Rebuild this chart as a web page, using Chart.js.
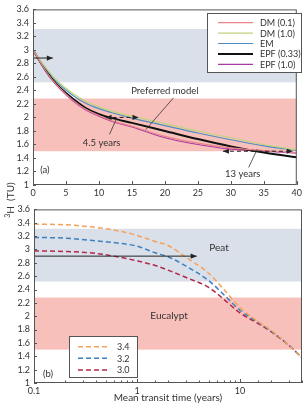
<!DOCTYPE html>
<html>
<head>
<meta charset="utf-8">
<script src="https://cdn.jsdelivr.net/npm/chart.js@4/dist/chart.umd.min.js"></script>
<style>
  body { margin: 0; background: #fff; }
  #wrap { position: relative; width: 305px; height: 408px; font-family: Lato, sans-serif; }
  #topChart { position: absolute; left: 0; top: 0; }
  #botChart { position: absolute; left: 0; top: 200px; }
  #ylab {
    position: absolute; left: -22px; top: 194px; width: 64px; height: 12px; line-height: 12px;
    text-align: center; transform: rotate(-90deg); font-size: 10px; color: #333; white-space: nowrap;
  }
</style>
</head>
<body>
<div id="wrap">
  <canvas id="topChart" width="305" height="200"></canvas>
  <canvas id="botChart" width="305" height="208"></canvas>
  <div id="ylab"><sup style="font-size:7px;line-height:0">3</sup>H&nbsp;&nbsp;(TU)</div>
</div>
<script>
// ---- panel (a): mean age vs tritium, lumped parameter models ----
const ageA = [0, 1, 2, 3, 4, 6, 8, 10, 12, 15, 20, 25, 30, 35, 40];
const dm01 = [3.0, 2.835, 2.68, 2.55, 2.44, 2.26, 2.12, 2.03, 1.95, 1.87, 1.72, 1.62, 1.55, 1.51, 1.48];
const dm10 = [3.0, 2.86, 2.73, 2.61, 2.51, 2.36, 2.24, 2.16, 2.09, 2.02, 1.91, 1.80, 1.70, 1.60, 1.52];
const em = [3.0, 2.85, 2.72, 2.60, 2.49, 2.33, 2.21, 2.13, 2.07, 1.99, 1.88, 1.77, 1.67, 1.58, 1.51];
const epf033 = [3.0, 2.84, 2.69, 2.56, 2.45, 2.28, 2.14, 2.05, 1.99, 1.92, 1.80, 1.68, 1.57, 1.48, 1.41];
const epf10 = [3.0, 2.83, 2.67, 2.54, 2.43, 2.25, 2.11, 2.02, 1.94, 1.86, 1.70, 1.60, 1.53, 1.50, 1.47];

// ---- panel (b): mean transit time vs tritium for three inputs ----
const mttB = [0.1, 0.2, 0.4, 0.7, 1, 1.5, 2, 3, 5, 7, 10, 15, 20, 30, 40];
const in34 = [3.38, 3.37, 3.33, 3.27, 3.21, 3.12, 3.06, 2.88, 2.64, 2.40, 2.13, 1.92, 1.79, 1.56, 1.38];
const in32 = [3.18, 3.17, 3.13, 3.09, 3.05, 2.95, 2.89, 2.75, 2.53, 2.32, 2.09, 1.91, 1.78, 1.56, 1.38];
const in30 = [2.98, 2.97, 2.94, 2.88, 2.83, 2.76, 2.69, 2.58, 2.43, 2.25, 2.05, 1.89, 1.77, 1.56, 1.38];

// tritium ranges of the two catchments [low, high]
const peatRange = [2.52, 3.31];
const eucRange = [1.5, 2.28];

// measured values / age spans used by the arrows
const sampleA = 2.88;       // start value, panel a
const span45 = [11, 16, 2.0];   // from, to, TU
const span13 = [28.8, 39.4, 1.5];
const sampleB = 2.9;
const sampleBEnd = 3.8;

const FONT = 'Lato, sans-serif';
const TXT = '#333';

function head(ctx, tx, ty, fx, fy) {
  const a = Math.atan2(ty - fy, tx - fx), L = 6, W = 2.6;
  ctx.beginPath();
  ctx.moveTo(tx, ty);
  ctx.lineTo(tx - L * Math.cos(a) + W * Math.sin(a), ty - L * Math.sin(a) - W * Math.cos(a));
  ctx.lineTo(tx - L * Math.cos(a) - W * Math.sin(a), ty - L * Math.sin(a) + W * Math.cos(a));
  ctx.closePath();
  ctx.fill();
}

function arrow(ctx, x1, y1, x2, y2, both, dash) {
  ctx.strokeStyle = '#222';
  ctx.fillStyle = '#222';
  ctx.lineWidth = 1;
  ctx.setLineDash(dash ? [4, 3] : []);
  ctx.beginPath(); ctx.moveTo(x1, y1); ctx.lineTo(x2, y2); ctx.stroke();
  ctx.setLineDash([]);
  head(ctx, x2, y2, x1, y1);
  if (both) head(ctx, x1, y1, x2, y2);
}

function line(ctx, x1, y1, x2, y2) {
  ctx.strokeStyle = '#333';
  ctx.lineWidth = 0.8;
  ctx.setLineDash([]);
  ctx.beginPath(); ctx.moveTo(x1, y1); ctx.lineTo(x2, y2); ctx.stroke();
}

function text(ctx, s, x, y, size) {
  ctx.fillStyle = TXT;
  ctx.font = (size || 9.5) + 'px ' + FONT;
  ctx.textAlign = 'center';
  ctx.textBaseline = 'middle';
  ctx.fillText(s, x, y);
}

// frame, inward ticks and a boxed legend, shared by both panels
function frameAndLegend(chart, leg) {
  const { ctx, chartArea: a, scales: { x, y } } = chart;
  ctx.save();
  ctx.strokeStyle = '#555';
  ctx.lineWidth = 1;
  ctx.strokeRect(a.left + 0.5, a.top + 0.5, a.right - a.left - 1, a.bottom - a.top - 1);
  x.ticks.forEach(t => {
    const px = Math.round(x.getPixelForValue(t.value)) + 0.5;
    const len = t.label === '' ? 2.5 : 4;
    ctx.beginPath(); ctx.moveTo(px, a.bottom); ctx.lineTo(px, a.bottom - len); ctx.stroke();
  });
  y.ticks.forEach(t => {
    const py = Math.round(y.getPixelForValue(t.value)) + 0.5;
    ctx.beginPath(); ctx.moveTo(a.left, py); ctx.lineTo(a.left + 3, py); ctx.stroke();
  });

  // legend
  const bx = leg.x, by = leg.y;
  ctx.fillStyle = '#fff';
  ctx.fillRect(bx, by, leg.w, leg.h);
  ctx.strokeStyle = '#555';
  ctx.lineWidth = 1;
  ctx.strokeRect(bx + 0.5, by + 0.5, leg.w, leg.h);
  chart.data.datasets.forEach((ds, i) => {
    const ry = by + leg.first + i * leg.step;
    ctx.strokeStyle = ds.borderColor;
    ctx.lineWidth = ds.borderWidth;
    ctx.setLineDash(ds.borderDash || []);
    ctx.beginPath(); ctx.moveTo(bx + leg.l1, ry); ctx.lineTo(bx + leg.l2, ry); ctx.stroke();
    ctx.setLineDash([]);
    ctx.fillStyle = TXT;
    ctx.font = '9px ' + FONT;
    ctx.textAlign = 'left';
    ctx.textBaseline = 'middle';
    ctx.fillText(ds.label, bx + leg.tx, ry + 0.5);
  });
  ctx.restore();
}

function bands(chart) {
  const { ctx, chartArea: a, scales: { y } } = chart;
  ctx.save();
  [[peatRange, '#d9e0ea'], [eucRange, '#f8c0bb']].forEach(([r, c]) => {
    const top = y.getPixelForValue(r[1]), bot = y.getPixelForValue(r[0]);
    ctx.fillStyle = c;
    ctx.fillRect(a.left, top, a.right - a.left, bot - top);
  });
  ctx.restore();
}

const yTicks = {
  stepSize: 0.2, color: TXT, padding: 4, autoSkip: false,
  font: { family: FONT, size: 9 },
  callback: v => String(+v.toFixed(1))
};
const noGrid = { display: false, drawTicks: false };

const series = (xs, vals) => xs.map((t, i) => ({ x: t, y: vals[i] }));

new Chart(document.getElementById('topChart'), {
  type: 'line',
  data: {
    datasets: [
      { label: 'DM (0.1)', data: series(ageA, dm01), borderColor: '#e8848a', borderWidth: 1.2 },
      { label: 'DM (1.0)', data: series(ageA, dm10), borderColor: '#bfd47c', borderWidth: 1.2 },
      { label: 'EM', data: series(ageA, em), borderColor: '#4f8cc3', borderWidth: 1.2 },
      { label: 'EPF (0.33)', data: series(ageA, epf033), borderColor: '#111', borderWidth: 2 },
      { label: 'EPF (1.0)', data: series(ageA, epf10), borderColor: '#a83aa3', borderWidth: 1.2 }
    ]
  },
  options: {
    responsive: false,
    animation: false,
    layout: { padding: { top: 4, right: 4, left: 0, bottom: 0 } },
    elements: { point: { radius: 0 }, line: { cubicInterpolationMode: 'monotone' } },
    plugins: { legend: { display: false }, tooltip: { enabled: false } },
    scales: {
      x: {
        type: 'linear', min: 0, max: 40,
        ticks: { stepSize: 5, color: TXT, padding: 3, maxRotation: 0, font: { family: FONT, size: 9 } },
        grid: noGrid, border: { display: false },
        afterFit: s => { s.height = 15; }
      },
      y: {
        min: 1, max: 3.6, ticks: yTicks,
        grid: noGrid, border: { display: false },
        afterFit: s => { s.width = 33; }
      }
    }
  },
  plugins: [{
    id: 'panelA',
    beforeDatasetsDraw: bands,
    afterDatasetsDraw(chart) {
      const { ctx, scales: { x, y } } = chart;
      ctx.save();
      arrow(ctx, x.getPixelForValue(0), y.getPixelForValue(sampleA), x.getPixelForValue(3), y.getPixelForValue(sampleA), false, false);
      arrow(ctx, x.getPixelForValue(span45[0]), y.getPixelForValue(span45[2]), x.getPixelForValue(span45[1]), y.getPixelForValue(span45[2]), true, true);
      arrow(ctx, x.getPixelForValue(span13[0]), y.getPixelForValue(span13[2]), x.getPixelForValue(span13[1]), y.getPixelForValue(span13[2]), true, true);
      line(ctx, x.getPixelForValue(21.3), y.getPixelForValue(2.29), x.getPixelForValue(17.1), y.getPixelForValue(1.82));
      line(ctx, x.getPixelForValue(11.6), y.getPixelForValue(1.75), x.getPixelForValue(12.7), y.getPixelForValue(1.99));
      line(ctx, x.getPixelForValue(32.7), y.getPixelForValue(1.26), x.getPixelForValue(34.0), y.getPixelForValue(1.53));
      text(ctx, 'Preferred model', x.getPixelForValue(20), y.getPixelForValue(2.39));
      text(ctx, '4.5 years', x.getPixelForValue(10.4), y.getPixelForValue(1.63));
      text(ctx, '13 years', x.getPixelForValue(31.8), y.getPixelForValue(1.17));
      text(ctx, '(a)', x.getPixelForValue(1.8), y.getPixelForValue(1.23));
      ctx.restore();
      frameAndLegend(chart, { x: 207, y: 13, w: 94, h: 59, first: 9.7, step: 10.4, l1: 11, l2: 46, tx: 53 });
    }
  }]
});

const isDecade = v => Math.abs(Math.log10(v) - Math.round(Math.log10(v))) < 1e-6;

new Chart(document.getElementById('botChart'), {
  type: 'line',
  data: {
    datasets: [
      { label: '3.4', data: series(mttB, in34), borderColor: '#f4a25a', borderWidth: 1.5, borderDash: [5, 3] },
      { label: '3.2', data: series(mttB, in32), borderColor: '#3b80c2', borderWidth: 1.5, borderDash: [5, 3] },
      { label: '3.0', data: series(mttB, in30), borderColor: '#b0294a', borderWidth: 1.5, borderDash: [5, 3] }
    ]
  },
  options: {
    responsive: false,
    animation: false,
    layout: { padding: { top: 1, right: 3, left: 0, bottom: 0 } },
    elements: { point: { radius: 0 }, line: { cubicInterpolationMode: 'monotone' } },
    plugins: { legend: { display: false }, tooltip: { enabled: false } },
    scales: {
      x: {
        type: 'logarithmic', min: 0.1, max: 40,
        ticks: {
          color: TXT, padding: 3, maxRotation: 0, autoSkip: false,
          font: { family: FONT, size: 9 },
          callback: v => isDecade(v) ? String(+v.toFixed(1)) : ''
        },
        title: { display: true, text: 'Mean transit time (years)', color: TXT, font: { family: FONT, size: 10 }, padding: { top: 0, bottom: 4 } },
        grid: noGrid, border: { display: false },
        afterFit: s => { s.height = 25; }
      },
      y: {
        min: 1, max: 3.6, ticks: yTicks,
        grid: noGrid, border: { display: false },
        afterFit: s => { s.width = 34; }
      }
    }
  },
  plugins: [{
    id: 'panelB',
    beforeDatasetsDraw: bands,
    afterDatasetsDraw(chart) {
      const { ctx, scales: { x, y } } = chart;
      ctx.save();
      arrow(ctx, x.getPixelForValue(0.1), y.getPixelForValue(sampleB), x.getPixelForValue(sampleBEnd), y.getPixelForValue(sampleB), false, false);
      text(ctx, 'Peat', x.getPixelForValue(6.25), y.getPixelForValue(3.03), 10);
      text(ctx, 'Eucalypt', x.getPixelForValue(2.05), y.getPixelForValue(2.0), 10);
      text(ctx, '(b)', x.getPixelForValue(0.137), y.getPixelForValue(1.13));
      ctx.restore();
      frameAndLegend(chart, { x: 69, y: 136, w: 68, h: 41, first: 10.7, step: 11.6, l1: 9, l2: 38, tx: 48 });
    }
  }]
});
</script>
</body>
</html>
